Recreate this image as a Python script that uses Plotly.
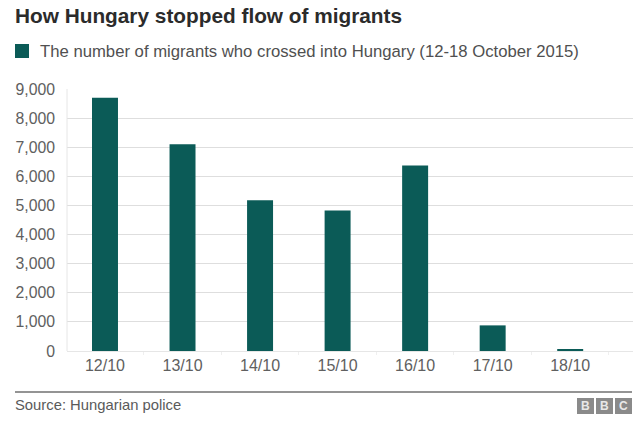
import plotly.graph_objects as go

days = ["12/10", "13/10", "14/10", "15/10", "16/10", "17/10", "18/10"]
migrants = [8700, 7100, 5180, 4830, 6370, 880, 40]
y_ticks = [0, 1000, 2000, 3000, 4000, 5000, 6000, 7000, 8000, 9000]
y_labels = ["0", "1,000", "2,000", "3,000", "4,000", "5,000", "6,000", "7,000", "8,000", "9,000"]
bbc_letters = ["B", "B", "C"]

W, H = 640, 430
L, R, T, B = 67, 7, 89, 79
GREEN = "#0b5b57"
FONT = "Liberation Sans"


# pixel position to paper coordinates
def px(x):
    return (x - L) / (W - L - R)


def py(y):
    return 1 - (y - T) / (H - T - B)


fig = go.Figure()
fig.add_trace(go.Bar(x=list(range(len(days))), y=migrants, width=0.335,
                     marker=dict(color=GREEN, line=dict(width=0))))

shapes = [
    # legend key
    dict(type="rect", xref="paper", yref="paper", x0=px(15), x1=px(29), y0=py(58), y1=py(44),
         fillcolor=GREEN, line=dict(width=0)),
    # footer rule
    dict(type="line", xref="paper", yref="paper", x0=px(15), x1=px(632), y0=py(392), y1=py(392),
         line=dict(color="#707070", width=1.5)),
    # left axis line
    dict(type="line", xref="paper", yref="paper", x0=0, x1=0, y0=0, y1=1,
         line=dict(color="#e6e6e6", width=1)),
]
annotations = [
    dict(text="<b>How Hungary stopped flow of migrants</b>", x=px(13), y=py(15.5), font=dict(size=20.8, color="#2b2b2b")),
    dict(text="The number of migrants who crossed into Hungary (12-18 October 2015)", x=px(38), y=py(51),
         font=dict(size=16.7, color="#505050")),
    dict(text="Source: Hungarian police", x=px(13), y=py(405), font=dict(size=14.8, color="#5a5a5a")),
]
# BBC blocks
for i, letter in enumerate(bbc_letters):
    x0 = 577 + i * 19
    shapes.append(dict(type="rect", xref="paper", yref="paper", x0=px(x0), x1=px(x0 + 17), y0=py(414), y1=py(398),
                       fillcolor="#8a8a8a", line=dict(width=0)))
    annotations.append(dict(text="<b>%s</b>" % letter, x=px(x0 + 8.5), y=py(406), xanchor="center",
                            font=dict(size=12, color="#e8e8e8")))

for a in annotations:
    a.update(xref="paper", yref="paper", showarrow=False, yanchor="middle")
    a.setdefault("xanchor", "left")

fig.update_layout(
    width=W, height=H, autosize=False,
    margin=dict(l=L, r=R, t=T, b=B),
    paper_bgcolor="white", plot_bgcolor="white",
    font=dict(family=FONT),
    showlegend=False,
    shapes=shapes, annotations=annotations,
    xaxis=dict(range=[-0.49, 6.81], tickmode="array", tickvals=list(range(len(days))), ticktext=days,
               tickfont=dict(size=16, color="#606060"), showgrid=False, zeroline=False,
               ticks="", showline=True, linecolor="#e6e6e6", linewidth=1,
               minor=dict(tickmode="array", tickvals=[-0.5, 0.5, 1.5, 2.5, 3.5, 4.5, 5.5, 6.5],
                          ticks="outside", ticklen=3, tickcolor="#efefef", showgrid=False)),
    yaxis=dict(range=[0, 9000], tickmode="array", tickvals=y_ticks, ticktext=y_labels,
               tickfont=dict(size=15.8, color="#606060"), gridcolor="#dedede", gridwidth=1,
               zeroline=False, ticks="", ticklabelstandoff=11),
)

# the page's default body margin would push the chart 8px down and right
fig.write_html("out.html", config=dict(displayModeBar=False),
               post_script="document.body.style.margin='0';document.body.style.overflow='hidden';")
